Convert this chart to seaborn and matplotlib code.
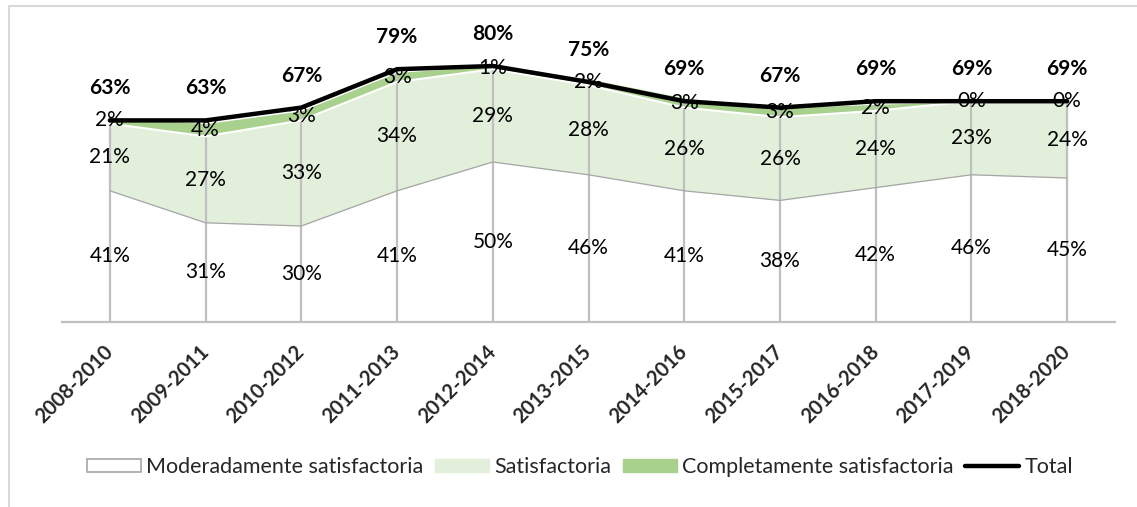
import pandas as pd
import seaborn as sns
import matplotlib.pyplot as plt
from matplotlib.patches import Patch
from matplotlib.lines import Line2D

periods = ['2008-2010', '2009-2011', '2010-2012', '2011-2013', '2012-2014',
           '2013-2015', '2014-2016', '2015-2017', '2016-2018', '2017-2019',
           '2018-2020']
moderada = [41, 31, 30, 41, 50, 46, 41, 38, 42, 46, 45]
satisfactoria = [21, 27, 33, 34, 29, 28, 26, 26, 24, 23, 24]
completa = [2, 4, 3, 3, 1, 2, 3, 3, 2, 0, 0]
total = [63, 63, 67, 79, 80, 75, 69, 67, 69, 69, 69]

GREY = '#BFBFBF'
LIGHT_GREEN = '#E2EFDA'
GREEN = '#A9D18E'

sns.set_theme(style='white')
plt.rcParams['font.family'] = ['Lato', 'DejaVu Sans']

df = pd.DataFrame({'periodo': periods, 'mod': moderada,
                   'sat': satisfactoria, 'comp': completa, 'total': total})
df['x'] = range(len(df))
df['top_mod'] = df['mod']
df['top_sat'] = df['mod'] + df['sat']
df['top_comp'] = df['top_sat'] + df['comp']

fig = plt.figure(figsize=(11.37, 5.07), dpi=100)
ax = fig.add_axes([62 / 1137, 185 / 507, 1053 / 1137, 320 / 507])

# stacked areas
ax.fill_between(df['x'], 0, df['top_mod'], color='white', lw=0, zorder=1)
ax.fill_between(df['x'], df['top_mod'], df['top_sat'], color=LIGHT_GREEN,
                lw=0, zorder=1)
ax.fill_between(df['x'], df['top_sat'], df['top_comp'], color=GREEN,
                lw=0, zorder=1)

# drop lines
ax.vlines(df['x'], 0, df['top_comp'], color=GREY, lw=1.6, zorder=2)

# area edges
ax.plot(df['x'], df['top_mod'], color='#A6A6A6', lw=0.9, zorder=3)
ax.plot(df['x'], df['top_sat'], color='white', lw=1.5, zorder=3)

sns.lineplot(data=df, x='x', y='total', color='black', lw=3.2,
             ax=ax, zorder=4)

# labels
fs = 15
for _, r in df.iterrows():
    ax.text(r['x'], r['mod'] / 2, f"{r['mod']}%", ha='center',
            va='center', fontsize=fs, color='black', zorder=5)
    ax.text(r['x'], r['mod'] + r['sat'] / 2, f"{r['sat']}%", ha='center',
            va='center', fontsize=fs, color='black', zorder=5)
    ax.text(r['x'], r['top_sat'] + r['comp'] / 2, f"{r['comp']}%",
            ha='center', va='center', fontsize=fs, color='black', zorder=5)
    ax.annotate(f"{r['total']}%", (r['x'], r['total']), xytext=(0, 23),
                textcoords='offset points', ha='center', va='center',
                fontsize=fs, fontweight='bold', color='black', zorder=5)

ax.set_xlim(-0.5, len(df) - 0.5)
ax.set_ylim(0, 100)
ax.set_xticks(df['x'])
ax.set_xticklabels(periods, rotation=45, ha='right', va='center',
                   rotation_mode='anchor', fontsize=14.5, fontweight='bold')
ax.tick_params(axis='x', length=0, pad=19)
ax.set_yticks([])
ax.set_xlabel('')
ax.set_ylabel('')
for side in ['top', 'left', 'right']:
    ax.spines[side].set_visible(False)
ax.spines['bottom'].set_color(GREY)
ax.spines['bottom'].set_linewidth(1.6)
ax.patch.set_alpha(0)

handles = [Patch(facecolor='white', edgecolor='#A6A6A6', lw=1.2),
           Patch(facecolor=LIGHT_GREEN, edgecolor=LIGHT_GREEN),
           Patch(facecolor=GREEN, edgecolor=GREEN),
           Line2D([0], [0], color='black', lw=3.2)]
labels = ['Moderadamente satisfactoria', 'Satisfactoria',
          'Completamente satisfactoria', 'Total']
fig.legend(handles, labels, loc='center', ncol=4,
           bbox_to_anchor=(580 / 1137, 1 - 467 / 507), frameon=False,
           fontsize=15.5, handlelength=2.5, handleheight=0.6,
           handletextpad=0.23, columnspacing=0.56)

# chart border
fig.add_artist(Line2D([9 / 1137, 9 / 1137], [0, 1 - 6 / 507],
                      transform=fig.transFigure, color='#D9D9D9', lw=1.5))
fig.add_artist(Line2D([9 / 1137, 1], [1 - 6 / 507, 1 - 6 / 507],
                      transform=fig.transFigure, color='#D9D9D9', lw=1.5))

fig.savefig('out.png', dpi=100)
